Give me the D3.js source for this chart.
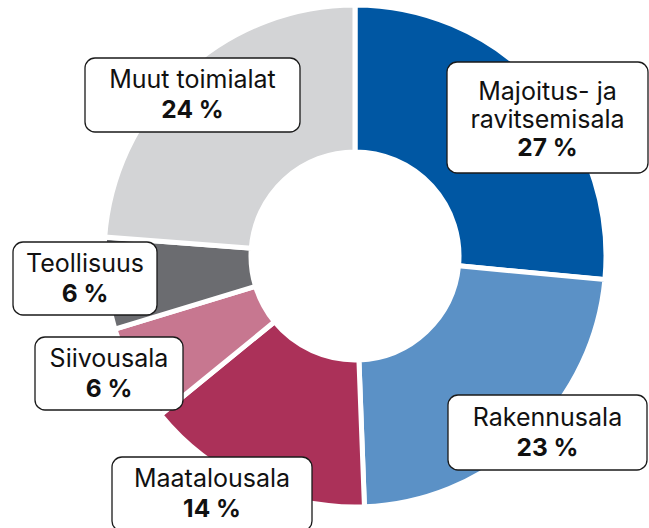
<!DOCTYPE html>
<html><head><meta charset="utf-8">
<script src="https://cdn.jsdelivr.net/npm/d3@7"></script>
<style>html,body{margin:0;padding:0;background:#fff;}svg{display:block;}</style>
</head><body>
<script>
const categories = ["Majoitus- ja ravitsemisala", "Rakennusala", "Maatalousala", "Siivousala", "Teollisuus", "Muut toimialat"];
// shares as drawn and the printed percentage labels
const shares = [26.5, 22.9, 14.7, 6.2, 5.9, 23.8];
const percentLabels = [27, 23, 14, 6, 6, 24];
const labelLines = [["Majoitus- ja", "ravitsemisala"], ["Rakennusala"], ["Maatalousala"], ["Siivousala"], ["Teollisuus"], ["Muut toimialat"]];
const colors = ["#0057a3", "#5b91c6", "#ab3159", "#c77790", "#6b6c70", "#d3d4d6"];
// label box layout [x, y, w, h]
const boxes = [[447, 62, 201, 111], [448, 395, 199, 75], [112, 457, 200, 74], [35, 337, 148, 73], [13, 242, 144, 73], [85, 58, 215, 74]];

const W = 649, H = 528;
const svg = d3.select("body").append("svg").attr("width", W).attr("height", H);
const cx = 355, cy = 256, rOut = 251, rIn = 104;

const pie = d3.pie().sort(null).value(d => d)(shares);
const arc = d3.arc().innerRadius(rIn).outerRadius(rOut);
const g = svg.append("g").attr("transform", `translate(${cx},${cy})`);
g.selectAll("path").data(pie).join("path")
  .attr("d", arc)
  .attr("fill", (d, i) => colors[i])
  .attr("stroke", "#fff").attr("stroke-width", 5).attr("stroke-linejoin", "miter");

const font = "Inter, Roboto, 'Liberation Sans', Arial, sans-serif";
categories.forEach((c, i) => {
  const [x, y, w, h] = boxes[i];
  const lg = svg.append("g");
  lg.append("rect").attr("x", x).attr("y", y).attr("width", w).attr("height", h)
    .attr("rx", 10).attr("ry", 10).attr("fill", "#fff").attr("stroke", "#1a1a1a").attr("stroke-width", 1.3);
  const lines = labelLines[i];
  const n = lines.length + 1;
  const lh = lines.length > 1 ? 28 : 30;
  const firstBase = y + h / 2 - (n - 1) * lh / 2 + (lines.length > 1 ? 10 : 8);
  lines.forEach((t, j) => {
    lg.append("text").attr("x", x + w / 2).attr("y", firstBase + j * lh)
      .attr("text-anchor", "middle").attr("font-family", font).attr("font-size", 25)
      .attr("fill", "#111").text(t);
  });
  lg.append("text").attr("x", x + w / 2).attr("y", firstBase + lines.length * lh)
    .attr("text-anchor", "middle").attr("font-family", font).attr("font-size", 24.5).attr("font-weight", "bold")
    .attr("fill", "#111").text(percentLabels[i] + " %");
});
</script>
</body></html>
